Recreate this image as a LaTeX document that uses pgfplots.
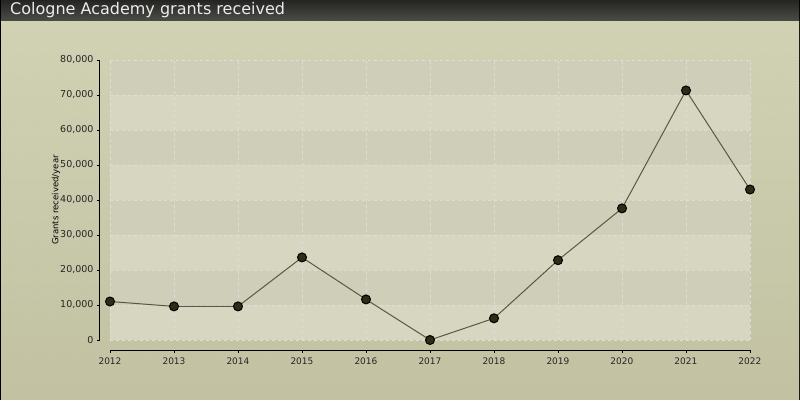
\documentclass[border=0pt]{standalone}
\usepackage{pgfplots}
\pgfplotsset{compat=1.18}
\usepackage{fontspec}
\setmainfont{DejaVu Sans}
\usetikzlibrary{patterns}
\definecolor{bgtop}{HTML}{D5D5B9}
\definecolor{bgbot}{HTML}{C3C3A4}
\definecolor{bandlight}{HTML}{D7D7C1}
\definecolor{banddark}{HTML}{CFCFB9}
\definecolor{gridc}{HTML}{DEDED6}
\definecolor{linec}{HTML}{5A5842}
\definecolor{markc}{HTML}{2E2B18}
\definecolor{titletop}{HTML}{262624}
\definecolor{titlebot}{HTML}{4C4C47}
\definecolor{hatch}{HTML}{C2C29E}
\pgfplotstableread{
year value
2012 11000
2013 9600
2014 9600
2015 23600
2016 11600
2017 0
2018 6200
2019 22800
2020 37600
2021 71300
2022 43000
}\grants
\begin{document}
\begin{tikzpicture}[x=1pt,y=1pt]
\fill[black] (0,0) rectangle (800,400);
\shade[top color=bgtop, bottom color=bgbot] (1,1) rectangle (799,379);
\fill[pattern=north east lines, pattern color=hatch, opacity=0.5] (1,1) rectangle (799,379);
\shade[top color=titletop, bottom color=titlebot] (1,379) rectangle (799,399);
\node[anchor=base west, text=white!92!black, font=\fontsize{16}{18}\selectfont, inner sep=0pt] at (10,385) {Cologne Academy grants received};
% alternating bands of the plot area (each 10,000 = 35pt)
\fill[bandlight] (110,60) rectangle (750,95);
\fill[banddark] (110,95) rectangle (750,130);
\fill[bandlight] (110,130) rectangle (750,165);
\fill[banddark] (110,165) rectangle (750,200);
\fill[bandlight] (110,200) rectangle (750,235);
\fill[banddark] (110,235) rectangle (750,270);
\fill[bandlight] (110,270) rectangle (750,305);
\fill[banddark] (110,305) rectangle (750,340);
\begin{axis}[
  at={(110pt,60pt)}, anchor=south west,
  scale only axis, width=640pt, height=280pt,
  xmin=2012, xmax=2022, ymin=0, ymax=80000,
  axis lines*=left,
  separate axis lines,
  x axis line style={yshift=-10pt, line width=1pt},
  y axis line style={xshift=-10pt, line width=1pt},
  xtick={2012,...,2022},
  ytick={0,10000,...,80000},
  tick align=outside,
  major tick length=3pt,
  xtick style={yshift=-10pt, black, line width=0.8pt},
  ytick style={xshift=-10pt, black, line width=0.8pt},
  scaled y ticks=false,
  tick label style={text=black!85},
  x tick label style={font=\fontsize{9}{10}\selectfont, /pgf/number format/1000 sep={}, /pgf/number format/assume math mode=true, anchor=center, yshift=-18pt},
  y tick label style={font=\fontsize{9.5}{10}\selectfont, /pgf/number format/1000 sep={,}, /pgf/number format/assume math mode=true, anchor=east, xshift=-10pt},
  ylabel={Grants received/year},
  ylabel style={at={(axis description cs:-0.084375,0.5)}, anchor=center, font=\fontsize{8.5}{10}\selectfont},
  xmajorgrids, ymajorgrids,
  grid style={gridc, dashed, line width=0.8pt},
  clip=false,
]
\addplot[linec, line width=1pt, mark=*, mark size=4.5pt, mark options={fill=markc, draw=black, line width=1pt}] table[x=year, y=value] {\grants};
\end{axis}
\end{tikzpicture}
\end{document}
